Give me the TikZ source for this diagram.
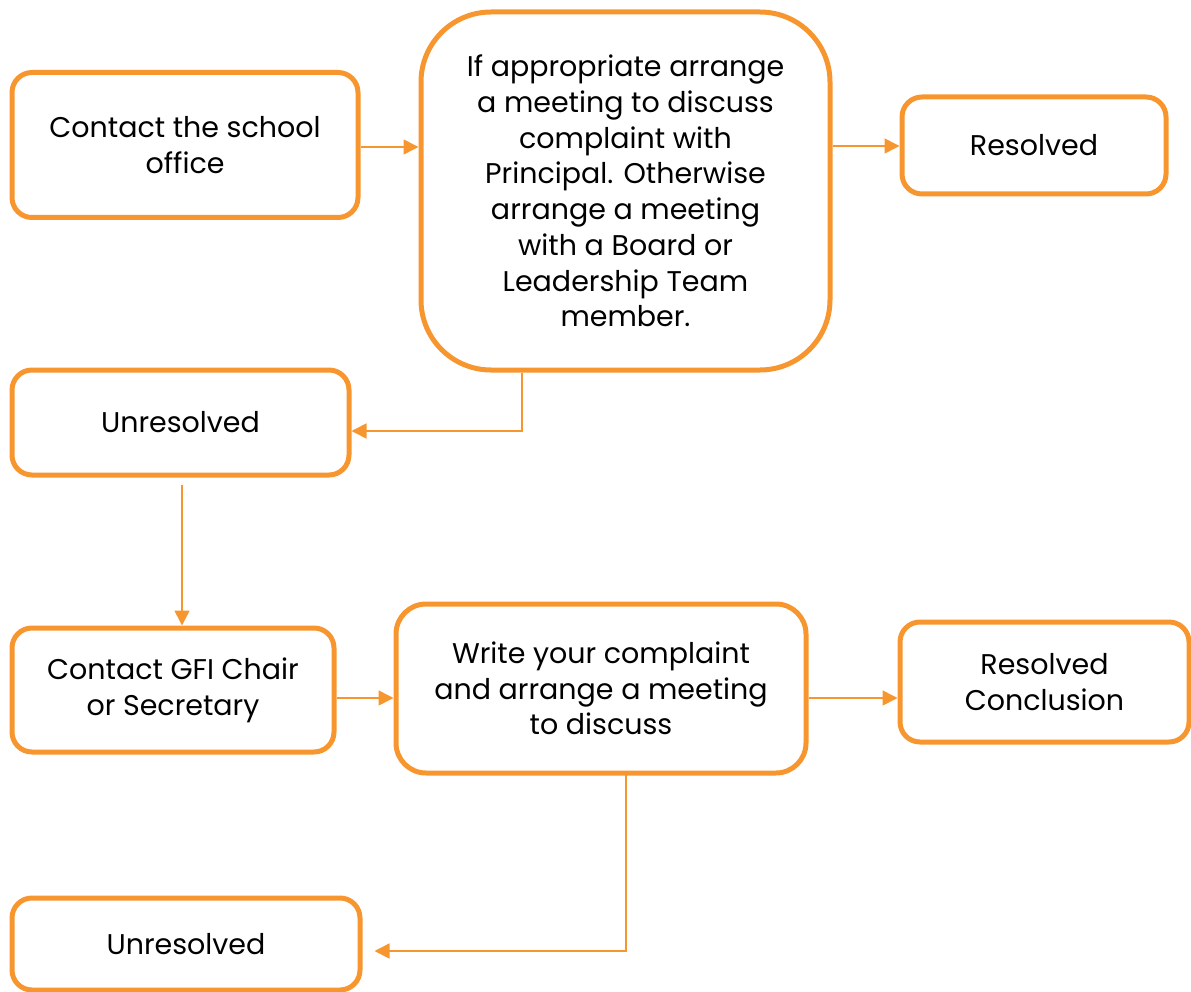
\documentclass[tikz,border=0pt]{standalone}
\usepackage{fontspec}
\setmainfont{Poppins}
\usetikzlibrary{arrows.meta}
\definecolor{org}{HTML}{F7962F}
\begin{document}
\begin{tikzpicture}[x=1pt,y=-1pt,
 box/.style={draw=org,line width=5pt,rounded corners=20pt,align=center,inner sep=0pt,
   font=\fontsize{28.5}{35.7}\selectfont},
 conn/.style={draw=org,line width=1.6pt,-{Triangle[length=15pt,width=15pt]}}]
\useasboundingbox (0,0) rectangle (1191,992);
\node[box,minimum width=346pt,minimum height=145pt] (a) at (185,145) {Contact the school\\office};
\node[box,rounded corners=70pt,minimum width=409pt,minimum height=358pt] (b) at (625.5,191) {If appropriate arrange\\a meeting to discuss\\complaint with\\Principal. Otherwise\\arrange a meeting\\with a Board or\\Leadership Team\\member.};
\node[box,minimum width=264pt,minimum height=97pt] (c) at (1034,145.5) {Resolved};
\node[box,minimum width=337pt,minimum height=105pt] (d) at (180.5,422.5) {Unresolved};
\node[box,minimum width=322pt,minimum height=124pt] (e) at (173,690) {Contact GFI Chair\\or Secretary};
\node[box,rounded corners=30pt,minimum width=410pt,minimum height=169pt] (f) at (601,688.5) {Write your complaint\\and arrange a meeting\\to discuss};
\node[box,minimum width=289pt,minimum height=120pt] (g) at (1044.5,682) {Resolved\\Conclusion};
\node[box,minimum width=348pt,minimum height=92pt] (h) at (186,944) {Unresolved};
\draw[conn] ([yshift=-2pt]a.east) -- ([yshift=-2pt]a.east -| b.west);
\draw[conn] ([yshift=-0.5pt]c.west -| b.east) -- ([yshift=-0.5pt]c.west);
\draw[conn] ([xshift=-103.5pt]b.south) |- ([yshift=-8.5pt]d.east);
\draw[conn] ([xshift=1.5pt,yshift=-7pt]d.south) -- ([xshift=1.5pt]d.south |- e.north);
\draw[conn] ([yshift=-8pt]e.east) -- ([yshift=-8pt]e.east -| f.west);
\draw[conn] ([yshift=-9.5pt]f.east) -- ([yshift=-9.5pt]f.east -| g.west);
\draw[conn] ([xshift=25pt,yshift=3pt]f.south) |- ([xshift=12pt,yshift=-7pt]h.east);
\draw[org,line width=3pt] ([xshift=25pt,yshift=3.5pt]f.south) -- ++(106,0);
\end{tikzpicture}
\end{document}
